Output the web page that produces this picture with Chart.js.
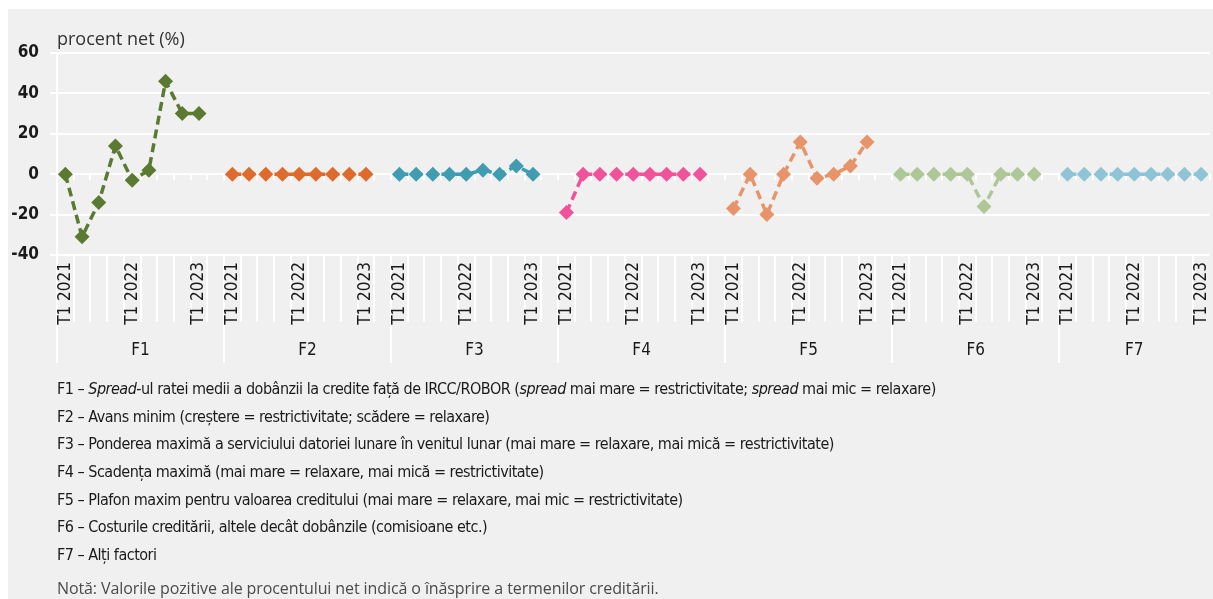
<!DOCTYPE html>
<html>
<head>
<meta charset="utf-8">
<script src="https://cdn.jsdelivr.net/npm/chart.js@4"></script>
<style>
  body { margin: 0; background: #fff; }
  #panel { position: absolute; left: 8px; top: 9px; width: 1205px; height: 590px; background: #f0f0f0; overflow: hidden; }
  #wrap { position: absolute; left: 0; top: 0; width: 1209px; height: 370px; }
  #notes { position: absolute; left: 49px; top: 366px; font-family: "Liberation Sans Narrow", "DejaVu Sans Condensed", sans-serif; font-size: 16px; letter-spacing: -0.5px; color: #1a1a1a; }
  #notes div { height: 27.7px; line-height: 27.7px; white-space: nowrap; }
  #notes .nota { margin-top: 6px; font-family: "Open Sans", sans-serif; font-size: 16px; letter-spacing: -0.1px; color: #4a4a4a; }
</style>
</head>
<body>
<div id="panel">
  <div id="wrap"><canvas id="chart"></canvas></div>
  <div id="notes">
    <div>F1 – <i>Spread</i>-ul ratei medii a dobânzii la credite față de IRCC/ROBOR (<i>spread</i> mai mare = restrictivitate; <i>spread</i> mai mic = relaxare)</div>
    <div>F2 – Avans minim (creștere = restrictivitate; scădere = relaxare)</div>
    <div>F3 – Ponderea maximă a serviciului datoriei lunare în venitul lunar (mai mare = relaxare, mai mică = restrictivitate)</div>
    <div>F4 – Scadența maximă (mai mare = relaxare, mai mică = restrictivitate)</div>
    <div>F5 – Plafon maxim pentru valoarea creditului (mai mare = relaxare, mai mic = restrictivitate)</div>
    <div>F6 – Costurile creditării, altele decât dobânzile (comisioane etc.)</div>
    <div>F7 – Alți factori</div>
    <div class="nota">Notă: Valorile pozitive ale procentului net indică o înăsprire a termenilor creditării.</div>
  </div>
</div>
<script>
// quarters shown in each group (only some carry a label)
const quarters = ['T1 2021', '', '', '', 'T1 2022', '', '', '', 'T1 2023'];
const groups = ['F1', 'F2', 'F3', 'F4', 'F5', 'F6', 'F7'];

const f1 = [0, -31, -14, 14, -3, 2, 46, 30, 30];
const f2 = [0, 0, 0, 0, 0, 0, 0, 0, 0];
const f3 = [0, 0, 0, 0, 0, 2, 0, 4, 0];
const f4 = [-19, 0, 0, 0, 0, 0, 0, 0, 0];
const f5 = [-17, 0, -20, 0, 16, -2, 0, 4, 16];
const f6 = [0, 0, 0, 0, 0, -16, 0, 0, 0];
const f7 = [0, 0, 0, 0, 0, 0, 0, 0, 0];

const colors = ['#5b7a31', '#de6a2c', '#3f9cb1', '#f0539a', '#e8946a', '#adc796', '#8fc4d6'];
const series = [f1, f2, f3, f4, f5, f6, f7];

// one empty slot between groups
const GROUP = 10;
const labels = [];
groups.forEach((g, gi) => {
  quarters.forEach(q => labels.push(q));
  if (gi < groups.length - 1) labels.push('');
});

const datasets = series.map((vals, gi) => {
  const data = labels.map(() => null);
  vals.forEach((v, i) => { data[gi * GROUP + i] = v; });
  return {
    label: groups[gi],
    data: data,
    borderColor: colors[gi],
    backgroundColor: colors[gi],
    borderWidth: 3.5,
    borderDash: [9, 5],
    pointStyle: 'rectRot',
    pointRadius: 7.5,
    pointBorderWidth: 0,
    tension: 0,
    spanGaps: false
  };
});

const narrow = '"Liberation Sans Narrow", "DejaVu Sans Condensed", sans-serif';

const decor = {
  id: 'decor',
  beforeDraw(chart) {
    // category separators under the axis (drawn before tick labels)
    const ctx = chart.ctx, x = chart.scales.x;
    const w = (x.right - x.left) / labels.length;
    const bottom = chart.chartArea.bottom;
    ctx.save();
    ctx.strokeStyle = '#fff';
    ctx.lineWidth = 2;
    ctx.beginPath();
    for (let i = 0; i < labels.length; i++) {
      const px = Math.round(x.left + i * w);
      const long = i % GROUP === 0;
      ctx.moveTo(px, bottom);
      ctx.lineTo(px, bottom + (long ? 108 : 67));
    }
    ctx.stroke();
    ctx.restore();
  },
  beforeDatasetsDraw(chart) {
    const ctx = chart.ctx, x = chart.scales.x, y = chart.scales.y;
    const w = (x.right - x.left) / labels.length;
    const y0 = y.getPixelForValue(0);
    ctx.save();
    ctx.strokeStyle = '#fff';
    ctx.lineWidth = 2;
    ctx.beginPath();
    for (let i = 0; i <= labels.length; i++) {
      const px = Math.round(x.left + i * w);
      ctx.moveTo(px, y0);
      ctx.lineTo(px, y0 + 6);
    }
    ctx.stroke();
    ctx.restore();
  },
  afterDraw(chart) {
    const ctx = chart.ctx, x = chart.scales.x;
    const w = (x.right - x.left) / labels.length;
    const bottom = chart.chartArea.bottom;
    ctx.save();
    // group names
    ctx.fillStyle = '#1a1a1a';
    ctx.font = '17px ' + narrow;
    ctx.textAlign = 'center';
    ctx.textBaseline = 'middle';
    groups.forEach((g, gi) => {
      const start = gi * GROUP;
      const end = Math.min(start + GROUP, labels.length);
      ctx.fillText(g, x.left + (start + end) / 2 * w, bottom + 96);
    });
    // axis title
    ctx.fillStyle = '#333';
    ctx.font = '18px "Open Sans", sans-serif';
    ctx.textAlign = 'left';
    ctx.fillText('procent net (%)', 49, 31);
    ctx.restore();
  }
};

new Chart(document.getElementById('chart'), {
  type: 'line',
  data: { labels: labels, datasets: datasets },
  options: {
    responsive: true,
    maintainAspectRatio: false,
    animation: false,
    layout: { padding: { top: 44, right: 0, left: 0, bottom: 0 } },
    plugins: { legend: { display: false }, tooltip: { enabled: false } },
    scales: {
      x: {
        offset: true,
        grid: { display: false, drawTicks: false },
        border: { display: false },
        ticks: {
          autoSkip: false,
          maxRotation: 90,
          minRotation: 90,
          padding: 7,
          color: '#1a1a1a',
          font: { family: narrow, size: 17 }
        },
        afterFit(scale) {
          scale.height = 124;
          scale.paddingLeft = 0;
          scale.paddingRight = 0;
        }
      },
      y: {
        min: -40,
        max: 60,
        grid: { color: '#fff', lineWidth: 2, tickLength: 7, tickColor: '#fff' },
        border: { display: true, color: '#fff', width: 2 },
        ticks: {
          stepSize: 20,
          padding: 11,
          color: '#1a1a1a',
          font: { family: narrow, size: 17, weight: 'bold' }
        },
        afterFit(scale) { scale.width = 49; }
      }
    }
  },
  plugins: [decor]
});
</script>
</body>
</html>
